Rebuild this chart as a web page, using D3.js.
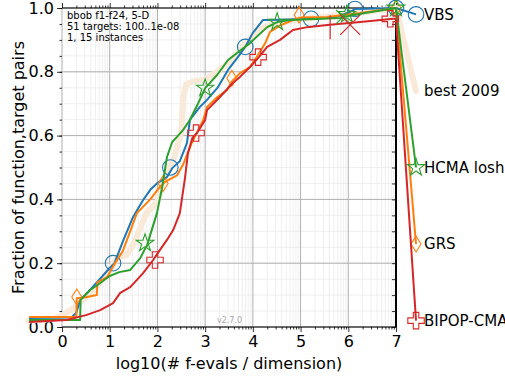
<!DOCTYPE html>
<html>
<head>
<meta charset="utf-8">
<script src="https://cdn.jsdelivr.net/npm/d3@7"></script>
<style>
body { margin: 0; background: #fff; }
text { font-family: "DejaVu Sans", sans-serif; }
</style>
</head>
<body>
<div id="chart"></div>
<script>
// ECDF curves, [log10(evals/dim), fraction]
var vbsData = [[-0.69,0.028],[0.2,0.03],[0.3,0.045],[0.38,0.085],[0.55,0.11],[0.73,0.14],[1.0,0.185],[1.1,0.2],[1.28,0.27],[1.49,0.345],[1.7,0.398],[1.85,0.43],[1.99,0.45],[2.2,0.47],[2.31,0.498],[2.47,0.52],[2.62,0.577],[2.68,0.649],[2.89,0.69],[3.04,0.712],[3.27,0.752],[3.48,0.806],[3.67,0.843],[3.84,0.878],[4.0,0.922],[4.21,0.962],[4.6,0.963],[5.2,0.966],[5.7,0.97],[6.0,0.985],[6.15,0.997],[7.0,1.0]];
var best2009Data = [[-0.71,0.02],[-0.2,0.025],[0,0.035],[0.25,0.06],[0.5,0.094],[0.75,0.13],[1.0,0.18],[1.17,0.22],[1.35,0.225],[1.5,0.26],[1.64,0.31],[1.78,0.36],[1.99,0.39],[2.1,0.44],[2.22,0.49],[2.35,0.53],[2.5,0.61],[2.54,0.72],[2.6,0.76],[2.75,0.77],[3.0,0.775],[3.25,0.8],[3.5,0.83],[3.8,0.88],[4.1,0.93],[4.5,0.955],[5.0,0.965],[6.0,0.98],[6.5,0.99],[7.0,1.0]];
var hcmaData = [[-0.69,0.022],[0.38,0.022],[0.39,0.085],[0.59,0.116],[0.73,0.13],[1.0,0.16],[1.2,0.172],[1.43,0.179],[1.64,0.216],[1.74,0.245],[1.78,0.255],[1.99,0.357],[2.1,0.439],[2.2,0.533],[2.31,0.58],[2.41,0.596],[2.54,0.618],[2.68,0.649],[2.85,0.7],[3.0,0.749],[3.25,0.79],[3.48,0.837],[3.67,0.859],[3.94,0.89],[4.3,0.94],[4.51,0.956],[4.78,0.962],[5.83,0.969],[6.0,0.975],[6.35,0.984],[7.0,1.0]];
var grsData = [[-0.69,0.031],[0.3,0.031],[0.31,0.09],[0.5,0.093],[0.73,0.1],[0.74,0.14],[0.95,0.157],[1.07,0.19],[1.28,0.24],[1.57,0.357],[1.85,0.4],[2.05,0.439],[2.16,0.455],[2.41,0.475],[2.54,0.51],[2.62,0.54],[2.72,0.577],[2.83,0.61],[2.96,0.649],[3.04,0.69],[3.25,0.72],[3.46,0.743],[3.56,0.77],[3.73,0.796],[3.94,0.815],[4.11,0.853],[4.26,0.89],[4.36,0.925],[4.57,0.945],[4.84,0.962],[5.0,0.97],[5.56,0.972],[6.25,0.984],[7.0,1.0]];
var bipopData = [[-0.69,0.016],[0.1,0.022],[0.52,0.038],[0.8,0.053],[1.07,0.075],[1.22,0.107],[1.43,0.125],[1.7,0.169],[1.91,0.21],[2.05,0.241],[2.2,0.273],[2.33,0.304],[2.47,0.357],[2.58,0.47],[2.64,0.545],[2.73,0.592],[2.83,0.608],[3.0,0.649],[3.04,0.68],[3.31,0.721],[3.58,0.765],[3.73,0.784],[3.94,0.815],[4.11,0.843],[4.3,0.878],[4.57,0.9],[4.84,0.931],[5.14,0.94],[5.56,0.947],[6.25,0.956],[6.94,0.966],[7.0,0.966]];

// marker positions along the curves
var vbsMarks = [[1.07,0.2],[2.27,0.5],[3.84,0.878],[5.22,0.966],[6.14,0.997],[7.0,1.0]];
var hcmaMarks = [[1.74,0.263],[3.0,0.749],[4.51,0.956],[5.97,0.98],[7.0,1.0]];
var grsMarks = [[0.31,0.094],[2.12,0.45],[3.56,0.78],[4.97,0.978],[7.0,1.0]];
var bipopMarks = [[1.95,0.21],[2.81,0.608],[4.11,0.846],[6.88,0.966]];
var crossMarks = [[5.89,0.972,'#2ca02c',7],[6.04,0.947,'#d62728',10]];
var barMarks = [[5.62,0.94,'#d62728']];

var algNames = ['VBS', 'best 2009', 'HCMA losh', 'GRS', 'BIPOP-CMA'];
var labelY = [0.98, 0.74, 0.5, 0.26, 0.02];
var labelX = 7.42;

var xTicks = [0, 1, 2, 3, 4, 5, 6, 7];
var yTicks = [0, 0.2, 0.4, 0.6, 0.8, 1.0];
var infoLines = ['bbob f1-f24, 5-D', '51 targets: 100..1e-08', '1, 15 instances'];

var svgWidth = 505, svgHeight = 379;
var svg = d3.select('#chart').append('svg').attr('width', svgWidth).attr('height', svgHeight);

var x = d3.scaleLinear().domain([0, 7]).range([62, 396]);
var y = d3.scaleLinear().domain([0, 1]).range([327, 8]);

// minor positions
var xMinor = [];
for (var n = 0; n < 7; n++) {
  for (var k = 2; k <= 9; k++) xMinor.push(n + Math.log10(k));
}
var yMinor = d3.range(0, 1.0001, 0.05);

var grid = svg.append('g');
grid.selectAll('.gxm').data(xMinor).enter().append('line')
  .attr('x1', function(d) { return x(d); }).attr('x2', function(d) { return x(d); })
  .attr('y1', y(0)).attr('y2', y(1))
  .attr('stroke', '#ebebeb').attr('stroke-width', 0.8);
grid.selectAll('.gym').data(yMinor).enter().append('line')
  .attr('x1', x(0)).attr('x2', x(7))
  .attr('y1', function(d) { return y(d); }).attr('y2', function(d) { return y(d); })
  .attr('stroke', '#ebebeb').attr('stroke-width', 0.8);
grid.selectAll('.gx').data(xTicks).enter().append('line')
  .attr('x1', function(d) { return x(d); }).attr('x2', function(d) { return x(d); })
  .attr('y1', y(0)).attr('y2', y(1))
  .attr('stroke', '#b0b0b0').attr('stroke-width', 1);
grid.selectAll('.gy').data(yTicks).enter().append('line')
  .attr('x1', x(0)).attr('x2', x(7))
  .attr('y1', function(d) { return y(d); }).attr('y2', function(d) { return y(d); })
  .attr('stroke', '#b0b0b0').attr('stroke-width', 1);

// axes
svg.append('g').attr('transform', 'translate(0,' + y(0) + ')')
  .call(d3.axisBottom(x).tickValues(xTicks).tickSize(5).tickPadding(4).tickFormat(d3.format('d')));
svg.append('g').attr('transform', 'translate(0,' + y(0) + ')')
  .call(d3.axisBottom(x).tickValues(xMinor).tickSize(2.5).tickFormat(''));
svg.append('g').attr('transform', 'translate(0,' + y(1) + ')')
  .call(d3.axisTop(x).tickValues(xTicks).tickSize(5).tickFormat(''));
svg.append('g').attr('transform', 'translate(0,' + y(1) + ')')
  .call(d3.axisTop(x).tickValues(xMinor).tickSize(2.5).tickFormat(''));
svg.append('g').attr('transform', 'translate(' + x(0) + ',0)')
  .call(d3.axisLeft(y).tickValues(yTicks).tickSize(5).tickPadding(3).tickFormat(d3.format('.1f')));
svg.append('g').attr('transform', 'translate(' + x(0) + ',0)')
  .call(d3.axisLeft(y).tickValues(yMinor).tickSize(2.5).tickFormat(''));
svg.append('g').attr('transform', 'translate(' + x(7) + ',0)')
  .call(d3.axisRight(y).tickValues(yMinor).tickSize(-4).tickFormat(''));

svg.selectAll('.domain').attr('stroke', 'none');
svg.selectAll('.tick line').attr('stroke', '#000').attr('stroke-width', 0.8);
svg.selectAll('.tick text').attr('font-size', 16).attr('fill', '#000')
  .style('font-family', '"DejaVu Sans", sans-serif');

// spines
svg.append('line').attr('x1', x(0)).attr('x2', x(7)).attr('y1', y(0)).attr('y2', y(0))
  .attr('stroke', '#000').attr('stroke-width', 1);
svg.append('line').attr('x1', x(0)).attr('x2', x(7)).attr('y1', y(1)).attr('y2', y(1))
  .attr('stroke', '#000').attr('stroke-width', 1);
svg.append('line').attr('x1', x(7)).attr('x2', x(7)).attr('y1', y(0)).attr('y2', y(1))
  .attr('stroke', '#000').attr('stroke-width', 2);

// labels
svg.append('text').attr('x', 229).attr('y', 369)
  .attr('text-anchor', 'middle').attr('font-size', 16).text('log10(# f-evals / dimension)');
svg.append('text').attr('transform', 'translate(24,' + ((y(0) + y(1)) / 2) + ') rotate(-90)')
  .attr('text-anchor', 'middle').attr('font-size', 16).text('Fraction of function,target pairs');

svg.append('g').selectAll('text').data(infoLines).enter().append('text')
  .attr('x', 67).attr('y', function(d, i) { return 19 + i * 11; })
  .attr('font-size', 10).text(function(d) { return d; });

svg.append('text').attr('x', 217).attr('y', 323).attr('font-size', 8)
  .attr('fill', '#aaa').text('v2.7.0');

var line = d3.line()
  .x(function(d) { return x(d[0]); })
  .y(function(d) { return y(d[1]); });

// best 2009 reference
svg.append('path').datum(best2009Data.concat([[labelX, labelY[1]]]))
  .attr('fill', 'none').attr('stroke', '#f8e9d8').attr('stroke-width', 6)
  .attr('stroke-linejoin', 'round').attr('stroke-linecap', 'round').attr('d', line);

var series = [
  { data: vbsData, marks: vbsMarks, color: '#1f77b4', sym: 'circle', li: 0 },
  { data: grsData, marks: grsMarks, color: '#ff7f0e', sym: 'diamond', li: 3 },
  { data: hcmaData, marks: hcmaMarks, color: '#2ca02c', sym: 'star', li: 2 },
  { data: bipopData, marks: bipopMarks, color: '#d62728', sym: 'plus', li: 4 }
];

function symPath(s) {
  if (s === 'circle') return d3.symbol().type(d3.symbolCircle).size(190)();
  if (s === 'star') return d3.symbol().type(d3.symbolStar).size(95)();
  if (s === 'plus') return d3.symbol().type(d3.symbolCross).size(150)();
  return 'M0,-8L5,0L0,8L-5,0Z';
}

series.forEach(function(s) {
  var pts = s.data.concat([[labelX, labelY[s.li]]]);
  svg.append('path').datum(pts)
    .attr('fill', 'none').attr('stroke', s.color).attr('stroke-width', 2)
    .attr('stroke-linejoin', 'round').attr('d', line);
  var mk = s.marks.concat([[labelX, labelY[s.li]]]);
  svg.append('g').selectAll('path').data(mk).enter().append('path')
    .attr('transform', function(d) { return 'translate(' + x(d[0]) + ',' + y(d[1]) + ')'; })
    .attr('d', symPath(s.sym))
    .attr('fill', 'none').attr('stroke', s.color).attr('stroke-width', 1.1);
});

// x markers and bar marker
crossMarks.forEach(function(c) {
  var cx = x(c[0]), cy = y(c[1]), r = c[3];
  svg.append('path').attr('d', 'M' + (cx - r) + ',' + (cy - r) + 'L' + (cx + r) + ',' + (cy + r) +
      'M' + (cx - r) + ',' + (cy + r) + 'L' + (cx + r) + ',' + (cy - r))
    .attr('stroke', c[2]).attr('stroke-width', 1.2);
});
barMarks.forEach(function(c) {
  svg.append('line').attr('x1', x(c[0])).attr('x2', x(c[0]))
    .attr('y1', y(c[1]) - 12).attr('y2', y(c[1]) + 12)
    .attr('stroke', c[2]).attr('stroke-width', 1.2);
});

// algorithm names at the right
svg.append('g').selectAll('text').data(algNames).enter().append('text')
  .attr('x', x(labelX) + 8).attr('y', function(d, i) { return y(labelY[i]); })
  .attr('dy', '0.35em').attr('font-size', 15).text(function(d) { return d; });
</script>
</body>
</html>
